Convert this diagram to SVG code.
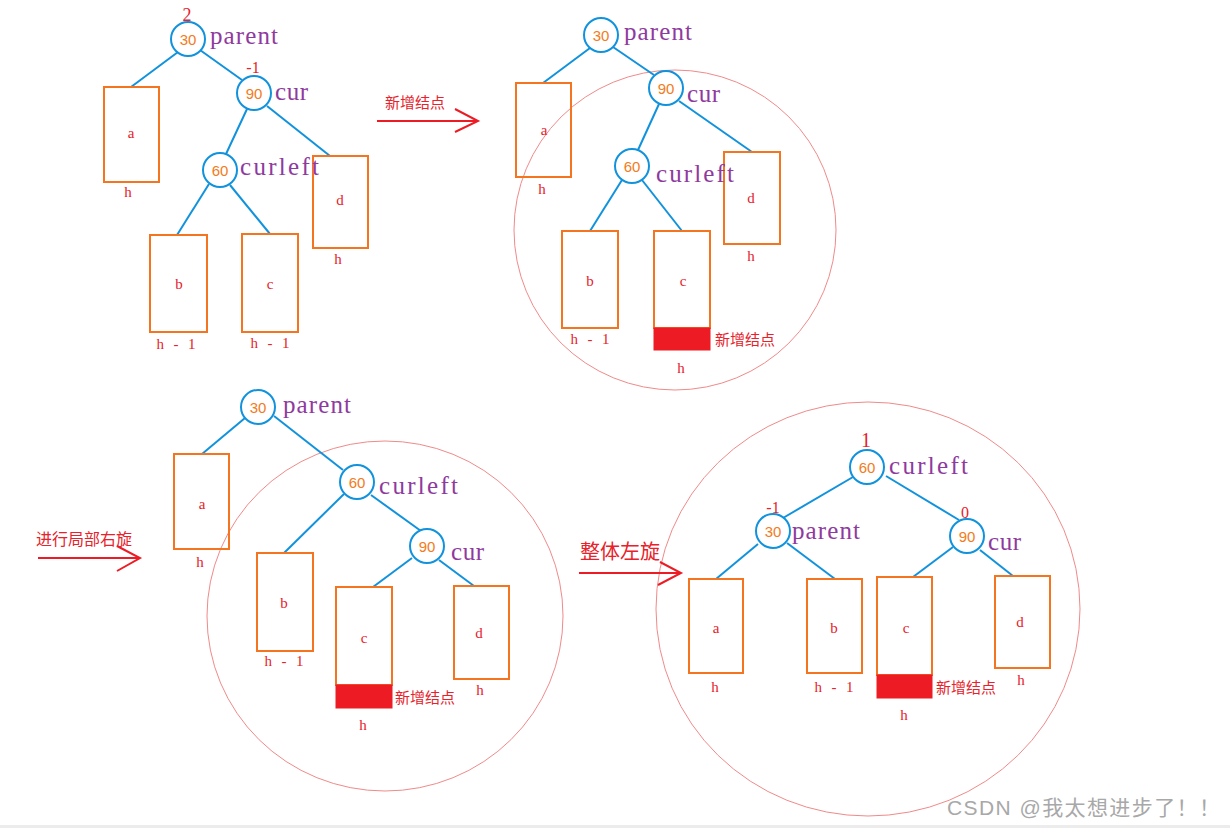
<svg xmlns="http://www.w3.org/2000/svg" width="1230" height="828" viewBox="0 0 1230 828">
<style>
.bg{fill:#ffffff}
.node circle{fill:#ffffff;stroke:#1192dd;stroke-width:2}
.num{font-family:"Liberation Sans",Arial,sans-serif;font-size:15px;fill:#f47b20;text-anchor:middle;dominant-baseline:central}
.lab{font-family:"Liberation Serif","Times New Roman",serif;font-size:25px;fill:#8e3a9e}
.bf{font-family:"Liberation Serif","Times New Roman",serif;fill:#e8212a;text-anchor:middle}
.bal{font-size:18px}
.box rect.sub{fill:none;stroke:#f4741f;stroke-width:2}
.box rect.new{fill:#ed1c24;stroke:#ed1c24;stroke-width:1}
.let{font-family:"Liberation Serif","Times New Roman",serif;font-size:15px;fill:#e8212a;text-anchor:middle;dominant-baseline:central}
.cjk{font-family:"Liberation Serif","Noto Sans CJK SC",serif;font-size:15px;fill:#e8212a}
.edges line{stroke:#1192dd;stroke-width:2}
.ring{fill:none;stroke:#f08a8a;stroke-width:1}
.arrow line,.arrow polyline{stroke:#ed1c24;stroke-width:2;fill:none}
</style>
<rect class="bg" x="0" y="0" width="1230" height="828"/>
<rect x="0" y="825" width="1230" height="3" fill="#ececec"/>

<!-- rings -->
<g id="rings">
<ellipse class="ring" cx="675" cy="230" rx="161" ry="160"/>
<ellipse class="ring" cx="385" cy="616" rx="178" ry="175"/>
<ellipse class="ring" cx="868" cy="609" rx="212" ry="207"/>
</g>

<!-- connectors -->
<g id="connectors" class="edges">
<!-- panel 1 -->
<line x1="178" y1="52" x2="131" y2="87"/>
<line x1="200" y1="50" x2="242" y2="80"/>
<line x1="247" y1="109" x2="226" y2="154"/>
<line x1="267" y1="106" x2="330" y2="156"/>
<line x1="209" y1="184" x2="177" y2="235"/>
<line x1="230" y1="185" x2="270" y2="234"/>
<!-- panel 2 -->
<line x1="590" y1="48" x2="543" y2="83"/>
<line x1="613" y1="47" x2="654" y2="75"/>
<line x1="659" y1="104" x2="638" y2="150"/>
<line x1="679" y1="101" x2="752" y2="152"/>
<line x1="622" y1="180" x2="590" y2="231"/>
<line x1="642" y1="180" x2="682" y2="231"/>
<!-- panel 3 -->
<line x1="245" y1="418" x2="202" y2="454"/>
<line x1="274" y1="416" x2="343" y2="470"/>
<line x1="344" y1="494" x2="284" y2="553"/>
<line x1="371" y1="495" x2="421" y2="531"/>
<line x1="412" y1="558" x2="373" y2="587"/>
<line x1="439" y1="560" x2="474" y2="586"/>
<!-- panel 4 -->
<line x1="853" y1="477" x2="783" y2="518"/>
<line x1="886" y1="476" x2="959" y2="520"/>
<line x1="758" y1="544" x2="716" y2="579"/>
<line x1="787" y1="543" x2="835" y2="579"/>
<line x1="953" y1="547" x2="913" y2="577"/>
<line x1="980" y1="550" x2="1013" y2="576"/>
</g>

<!-- arrows -->
<g id="arrow1" class="arrow">
<line x1="377" y1="121" x2="478" y2="121"/>
<polyline points="455,109 478,121 455,132"/>
<text class="cjk" x="385" y="108">新增结点</text>
</g>
<g id="arrow2" class="arrow">
<line x1="38" y1="558" x2="140" y2="558"/>
<polyline points="117,546 140,558 117,571"/>
<text class="cjk" x="36" y="545" style="font-size:16px">进行局部右旋</text>
</g>
<g id="arrow3" class="arrow">
<line x1="579" y1="573" x2="681" y2="573"/>
<polyline points="660,562 681,573 658,585"/>
<text class="cjk" x="580" y="559" style="font-size:20px">整体左旋</text>
</g>

<!-- ===== panel 1 ===== -->
<g id="p1-a" class="box"><rect class="sub" x="104" y="87" width="55" height="95"/><text class="let" x="131" y="133">a</text><text class="let" x="128" y="192">h</text></g>
<g id="p1-d" class="box"><rect class="sub" x="313" y="156" width="55" height="92"/><text class="let" x="340" y="200">d</text><text class="let" x="338" y="259">h</text></g>
<g id="p1-b" class="box"><rect class="sub" x="150" y="235" width="57" height="97"/><text class="let" x="179" y="284">b</text><text class="let" x="176" y="344" textLength="39">h - 1</text></g>
<g id="p1-c" class="box"><rect class="sub" x="242" y="234" width="56" height="98"/><text class="let" x="270" y="284">c</text><text class="let" x="270" y="343" textLength="39">h - 1</text></g>
<g id="p1-n30" class="node"><circle cx="188" cy="39" r="17"/><text class="num" x="188" y="39">30</text>
<text class="bf bal" x="187" y="21">2</text><text class="lab" x="210" y="44" textLength="68">parent</text></g>
<g id="p1-n90" class="node"><circle cx="254" cy="93" r="17"/><text class="num" x="254" y="93">90</text>
<text class="bf" x="253" y="73" style="font-size:16px">-1</text><text class="lab" x="275" y="100" textLength="33">cur</text></g>
<g id="p1-n60" class="node"><circle cx="220" cy="170" r="17"/><text class="num" x="220" y="170">60</text>
<text class="lab" x="240" y="175" textLength="79">curleft</text></g>

<!-- ===== panel 2 ===== -->
<g id="p2-a" class="box"><rect class="sub" x="516" y="83" width="55" height="94"/><text class="let" x="544" y="130">a</text><text class="let" x="542" y="189">h</text></g>
<g id="p2-d" class="box"><rect class="sub" x="724" y="152" width="56" height="92"/><text class="let" x="751" y="198">d</text><text class="let" x="751" y="256">h</text></g>
<g id="p2-b" class="box"><rect class="sub" x="562" y="231" width="56" height="97"/><text class="let" x="590" y="281">b</text><text class="let" x="590" y="339" textLength="39">h - 1</text></g>
<g id="p2-c" class="box"><rect class="sub" x="654" y="231" width="56" height="97"/><rect class="new" x="654" y="328" width="56" height="22"/><text class="let" x="683" y="281">c</text>
<text class="cjk" x="715" y="345">新增结点</text><text class="let" x="681" y="368">h</text></g>
<g id="p2-n30" class="node"><circle cx="601" cy="35" r="17"/><text class="num" x="601" y="35">30</text>
<text class="lab" x="624" y="40" textLength="68">parent</text></g>
<g id="p2-n90" class="node"><circle cx="666" cy="88" r="17"/><text class="num" x="666" y="88">90</text>
<text class="lab" x="687" y="102" textLength="33">cur</text></g>
<g id="p2-n60" class="node"><circle cx="632" cy="166" r="17"/><text class="num" x="632" y="166">60</text>
<text class="lab" x="656" y="182" textLength="78">curleft</text></g>

<!-- ===== panel 3 ===== -->
<g id="p3-a" class="box"><rect class="sub" x="174" y="454" width="55" height="95"/><text class="let" x="202" y="504">a</text><text class="let" x="200" y="562">h</text></g>
<g id="p3-b" class="box"><rect class="sub" x="257" y="553" width="56" height="98"/><text class="let" x="284" y="603">b</text><text class="let" x="284" y="661" textLength="39">h - 1</text></g>
<g id="p3-c" class="box"><rect class="sub" x="336" y="587" width="56" height="98"/><rect class="new" x="336" y="685" width="56" height="23"/><text class="let" x="364" y="638">c</text>
<text class="cjk" x="395" y="703">新增结点</text><text class="let" x="363" y="725">h</text></g>
<g id="p3-d" class="box"><rect class="sub" x="454" y="586" width="55" height="93"/><text class="let" x="479" y="633">d</text><text class="let" x="480" y="690">h</text></g>
<g id="p3-n30" class="node"><circle cx="258" cy="407" r="17"/><text class="num" x="258" y="407">30</text>
<text class="lab" x="283" y="413" textLength="68">parent</text></g>
<g id="p3-n60" class="node"><circle cx="357" cy="482" r="17"/><text class="num" x="357" y="482">60</text>
<text class="lab" x="379" y="494" textLength="79">curleft</text></g>
<g id="p3-n90" class="node"><circle cx="427" cy="546" r="17"/><text class="num" x="427" y="546">90</text>
<text class="lab" x="451" y="560" textLength="33">cur</text></g>

<!-- ===== panel 4 ===== -->
<g id="p4-a" class="box"><rect class="sub" x="689" y="579" width="54" height="94"/><text class="let" x="716" y="628">a</text><text class="let" x="715" y="687">h</text></g>
<g id="p4-b" class="box"><rect class="sub" x="807" y="579" width="55" height="94"/><text class="let" x="834" y="628">b</text><text class="let" x="834" y="687" textLength="39">h - 1</text></g>
<g id="p4-c" class="box"><rect class="sub" x="877" y="577" width="55" height="98"/><rect class="new" x="877" y="675" width="55" height="23"/><text class="let" x="906" y="628">c</text>
<text class="cjk" x="936" y="693">新增结点</text><text class="let" x="904" y="715">h</text></g>
<g id="p4-d" class="box"><rect class="sub" x="995" y="576" width="55" height="92"/><text class="let" x="1020" y="622">d</text><text class="let" x="1021" y="680">h</text></g>
<g id="p4-n60" class="node"><circle cx="867" cy="467" r="17"/><text class="num" x="867" y="467">60</text>
<text class="bf" x="866" y="447" style="font-size:20px">1</text><text class="lab" x="889" y="474" textLength="79">curleft</text></g>
<g id="p4-n30" class="node"><circle cx="773" cy="531" r="17"/><text class="num" x="773" y="531">30</text>
<text class="bf" x="773" y="513" style="font-size:16px">-1</text><text class="lab" x="792" y="539" textLength="68">parent</text></g>
<g id="p4-n90" class="node"><circle cx="967" cy="536" r="17"/><text class="num" x="967" y="536">90</text>
<text class="bf" x="965" y="518" style="font-size:16px">0</text><text class="lab" x="988" y="550" textLength="33">cur</text></g>

<text x="947" y="815" textLength="273" style="font-family:'Liberation Sans','Noto Sans CJK SC',sans-serif;font-size:21px;fill:#a8a8a8">CSDN @我太想进步了！！</text>
</svg>
